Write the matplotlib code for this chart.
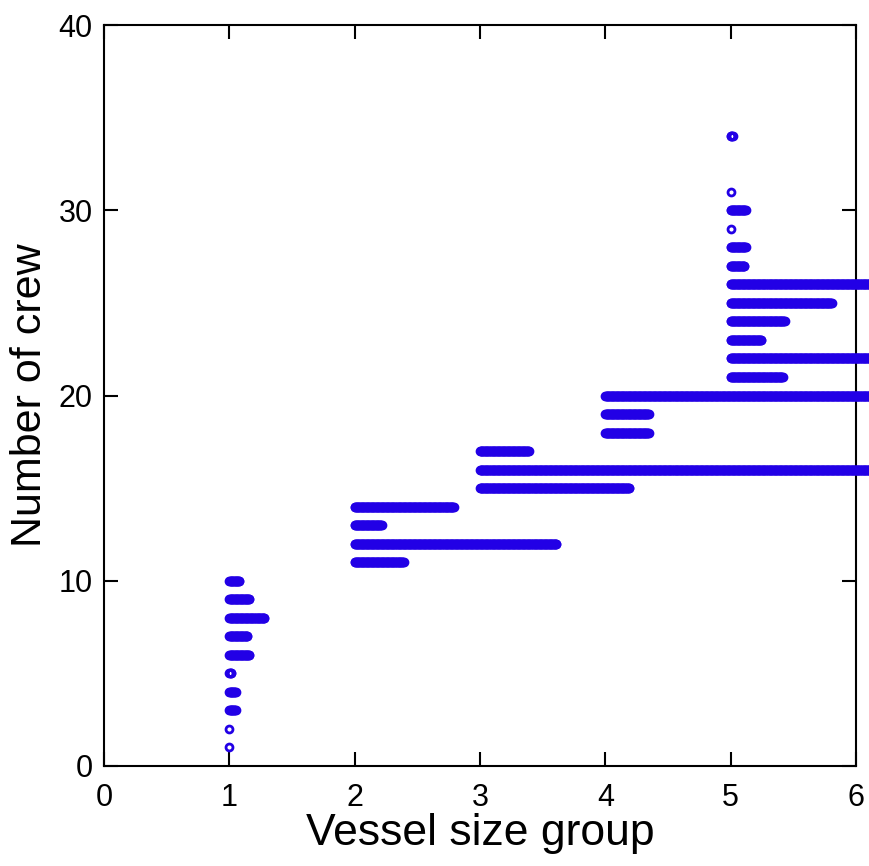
import numpy as np
import matplotlib.pyplot as plt

plt.rcParams['font.family'] = ['Liberation Sans', 'DejaVu Sans']

# crew values and how many vessels share each value, per size group
group_ids = [1, 2, 3, 4, 5]
crew_values = [
    [10, 9, 8, 7, 6, 5, 4, 3, 2, 1],
    [14, 13, 12, 11],
    [17, 16, 15],
    [20, 19, 18],
    [34, 31, 30, 29, 28, 27, 26, 25, 24, 23, 22, 21],
]
vessel_counts = [
    [17, 33, 57, 30, 33, 4, 11, 11, 1, 1],
    [159, 44, 323, 79],
    [79, 680, 239],
    [480, 70, 70],
    [4, 1, 25, 1, 25, 23, 256, 162, 87, 50, 256, 84],
]
step = 0.005  # horizontal offset between stacked points

fig = plt.figure(figsize=(8.7, 8.66), dpi=100)
ax = fig.add_axes([0.1195, 0.1155, 0.8644, 0.8556])

col = '#2200e6'
for g, ys, ns in zip(group_ids, crew_values, vessel_counts):
    for y, n in zip(ys, ns):
        xs = g + step * np.arange(n)
        ax.plot(xs, np.full(n, y), linestyle='none', marker='o', ms=5.0,
                mfc='none', mec=col, mew=2.0, clip_on=False, zorder=3)

ax.set_xlim(0, 6)
ax.set_ylim(0, 40)
ax.set_xticks(range(0, 7))
ax.set_yticks(range(0, 41, 10))
ax.tick_params(direction='in', length=10, width=1.5, top=True, right=True,
               labelsize=22)
ax.tick_params(axis='x', pad=12)
ax.tick_params(axis='y', pad=8)
for s in ax.spines.values():
    s.set_linewidth(1.5)

ax.set_xlabel('Vessel size group', fontsize=32, labelpad=0)
ax.set_ylabel('Number of crew', fontsize=31, labelpad=6)

fig.savefig('out.png', dpi=100)
